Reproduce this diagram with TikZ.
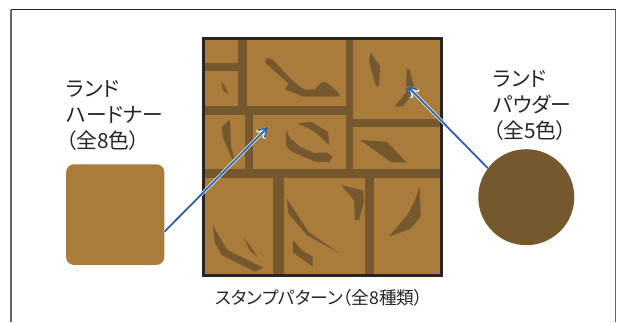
\documentclass[tikz,border=0pt]{standalone}
\usepackage{fontspec}
\setmainfont{Noto Sans CJK JP}[RawFeature=+palt]
\usetikzlibrary{arrows.meta}
\definecolor{tan}{HTML}{A97C3C}
\definecolor{dk}{HTML}{75582E}
\definecolor{ink}{HTML}{2A2522}
\definecolor{bl}{HTML}{2F5FA8}
\tikzset{
  grout/.style={fill=dk,draw=none},
  blob/.style={fill=dk,draw=none},
  label/.style={anchor=north west,inner sep=0pt,align=left,text=ink,font=\fontsize{20.8}{26}\selectfont},
  linkhalo/.style={draw=white,line width=3.2pt,-{Straight Barb[length=8.5pt,width=10pt,line width=3pt]}},
  link/.style={draw=bl,line width=1.8pt,-{Straight Barb[length=8.5pt,width=10pt,line width=1.6pt]}},
}
\begin{document}
\begin{tikzpicture}[x=1pt,y=-1pt]
\useasboundingbox (0,0) rectangle (622,322);
% outer frame
\draw[draw=black!60!white,line width=1.2pt] (11,322) -- (11,9.5) (615.7,9.5) -- (615.7,322);
\draw[draw=ink,line width=1pt] (10.5,9.3) -- (616.2,9.3);
% stamp field
\fill[tan] (203.5,38.3) rectangle (441,275.5);
% grout
\fill[grout] (237.7,38.3) rectangle (246.7,106);
\fill[grout] (203.5,63) rectangle (238,70.7);
\fill[grout] (203.5,105.5) rectangle (346,115);
\fill[grout] (346,38.3) rectangle (353.4,172);
\fill[grout] (353,119) rectangle (441,126.7);
\fill[grout] (245,115) rectangle (253,170);
\fill[grout] (203.5,169) rectangle (441,177.7);
\fill[grout] (272.7,177) rectangle (284.3,275.5);
\fill[grout] (365.3,177) rectangle (374.3,275.5);
% blobs
\fill[blob] (221,81.7) -- (223.3,90.7) -- (228.7,94.7) -- (224.5,85.5) -- cycle;
\fill[blob] (265.7,63) -- (265.7,59.3) -- (269,58) -- (273.3,60) -- (291.7,80) -- (301,87.3) -- (305.7,90) -- (315,89.3) -- (321,82.7) -- (325,82) -- (330,85) -- (339.3,93.3) -- (339.3,96.7) -- (303.3,96.7) -- (285,89.3) -- (288.3,83.3) -- cycle;
\fill[blob] (230,119.3) -- (221.7,127.3) -- (223.3,138.3) -- (232,159) -- (234,158) -- (231,146) -- cycle;
\fill[blob] (286,129) -- (290,138.3) -- (300,146.7) -- (315,153.3) -- (326.7,152.3) -- (332.7,156.7) -- (329.3,162.3) -- (315,161.7) -- (303.3,156.7) -- (290,150.7) -- (286,145) -- cycle;
\fill[blob] (297.3,123.3) -- (311.7,122) -- (328.3,132.3) -- (329,145) -- (316.7,133.3) -- (308.3,128.3) -- cycle;
\fill[blob] (370.7,52.7) -- (380,66) -- (379.3,86) -- (376,86) -- (369,61.7) -- cycle;
\fill[blob] (406.7,69.3) -- (409.3,69.3) -- (415,90) -- (403.3,106) -- (394.3,106.7) -- (406,92.7) -- cycle;
\fill[blob] (360,140) -- (386.7,141.7) -- (406.7,162.3) -- (391.7,162.3) -- cycle;
\fill[blob] (212.7,225.7) -- (227.3,250) -- (263.3,267.7) -- (255,271.7) -- (221.7,255) -- (215,243.3) -- cycle;
\fill[blob] (244,237.7) -- (258.3,257.7) -- (250,251) -- cycle;
\fill[blob] (286.7,198.3) -- (308.3,231.7) -- (339.3,253.3) -- (306.7,235) -- (288.3,213.3) -- cycle;
\fill[blob] (293.3,240) -- (301.7,250) -- (312.7,256.7) -- (312.7,266.7) -- (292.7,252.3) -- cycle;
\fill[blob] (341,185) -- (363.3,190.7) -- (364,201.7) -- (359,220) -- (355,220) -- (354,200) -- cycle;
\fill[blob] (419.7,186.7) -- (420.7,216.7) -- (410,229) -- (389,236.7) -- (407.3,215) -- (414.3,201.7) -- cycle;
% pattern outline
\draw[draw=ink,line width=3pt] (203.5,38.3) rectangle (441,275.5);
% swatches
\node[rectangle,rounded corners=8pt,fill=tan,minimum width=98.3pt,minimum height=100.7pt,inner sep=0pt] (hard) at (115.2,214.6) {};
\node[circle,fill=dk,minimum size=96pt,inner sep=0pt] (powder) at (526.3,197.2) {};
% connectors
\coordinate (tipa) at (268.3,126.7);
\coordinate (tipb) at (407.3,86);
\draw[linkhalo] (hard.-19.5) -- (tipa);
\draw[linkhalo] (powder.143) -- (tipb);
\draw[link] (hard.-19.5) -- (tipa);
\draw[link] (powder.143) -- (tipb);
% labels
\node[label] (lh) at (66,80) {ランド\\ハードナー\\（全8色）};
\node[label] (lp) at (493,70) {ランド\\パウダー\\（全5色）};
\node[anchor=north,inner sep=0pt,text=ink,font=\fontsize{17.7}{20}\selectfont] (cap) at (319.5,289) {スタンプパターン（全8種類）};
\end{tikzpicture}
\end{document}
